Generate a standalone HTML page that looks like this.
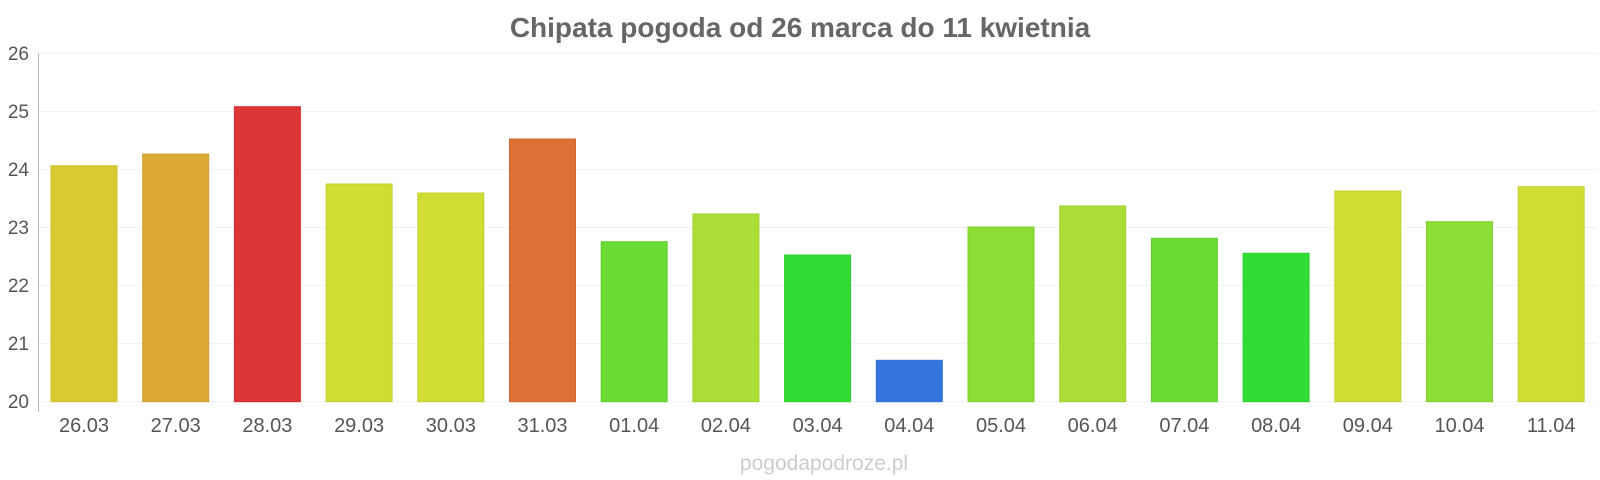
<!DOCTYPE html>
<html><head><meta charset="utf-8"><style>html,body{margin:0;padding:0;background:#fff;}svg{display:block;}</style></head>
<body>
<svg width="1600" height="480" xmlns="http://www.w3.org/2000/svg" font-family="Liberation Sans, sans-serif">
<text x="800" y="37" text-anchor="middle" font-size="28" font-weight="bold" fill="#666">Chipata pogoda od 26 marca do 11 kwietnia</text>
<g stroke="#f2f2f2" stroke-width="1">
<line x1="38" y1="53.3" x2="1597" y2="53.3"/>
<line x1="38" y1="111.4" x2="1597" y2="111.4"/>
<line x1="38" y1="169.4" x2="1597" y2="169.4"/>
<line x1="38" y1="227.5" x2="1597" y2="227.5"/>
<line x1="38" y1="285.6" x2="1597" y2="285.6"/>
<line x1="38" y1="343.6" x2="1597" y2="343.6"/>
<line x1="38" y1="401.7" x2="1597" y2="401.7"/>
</g>
<line x1="38.5" y1="53" x2="38.5" y2="412" stroke="#bbb" stroke-width="1"/>
<g font-size="19" fill="#555" text-anchor="end">
<text x="29" y="60">26</text><text x="29" y="118">25</text><text x="29" y="176">24</text><text x="29" y="234">23</text><text x="29" y="292">22</text><text x="29" y="350">21</text><text x="29" y="408">20</text>
</g>
<g stroke-width="1">
<rect x="51" y="165.7" width="66" height="236" fill="#dbc933" stroke="#cfc030"/>
<rect x="142.7" y="154" width="66" height="247.7" fill="#dca935" stroke="#d0a030"/>
<rect x="234.4" y="106.7" width="66" height="295" fill="#dc3535" stroke="#d03030"/>
<rect x="326.1" y="184" width="66" height="217.7" fill="#cfdd35" stroke="#c3d030"/>
<rect x="417.8" y="193" width="66" height="208.7" fill="#cfdd35" stroke="#c3d030"/>
<rect x="509.5" y="139" width="66" height="262.7" fill="#dd7035" stroke="#d06530"/>
<rect x="601.2" y="241.7" width="66" height="160" fill="#6adc35" stroke="#60d030"/>
<rect x="692.9" y="214" width="66" height="187.7" fill="#aadd35" stroke="#a0d030"/>
<rect x="784.6" y="255" width="66" height="146.7" fill="#33dc35" stroke="#30d030"/>
<rect x="876.3" y="360.3" width="66" height="41.4" fill="#3375dc" stroke="#3070d0"/>
<rect x="968" y="227" width="66" height="174.7" fill="#8cdd35" stroke="#80d030"/>
<rect x="1059.7" y="206" width="66" height="195.7" fill="#aadd35" stroke="#a0d030"/>
<rect x="1151.4" y="238.3" width="66" height="163.4" fill="#6adc35" stroke="#60d030"/>
<rect x="1243.1" y="253.3" width="66" height="148.4" fill="#33dc35" stroke="#30d030"/>
<rect x="1334.8" y="191" width="66" height="210.7" fill="#cfdd35" stroke="#c3d030"/>
<rect x="1426.5" y="221.7" width="66" height="180" fill="#8cdd35" stroke="#80d030"/>
<rect x="1518.2" y="186.7" width="66" height="215" fill="#cfdd35" stroke="#c3d030"/>
</g>
<g font-size="20" fill="#555" text-anchor="middle">
<text x="84" y="432">26.03</text><text x="175.7" y="432">27.03</text><text x="267.4" y="432">28.03</text><text x="359.1" y="432">29.03</text><text x="450.8" y="432">30.03</text><text x="542.5" y="432">31.03</text><text x="634.2" y="432">01.04</text><text x="725.9" y="432">02.04</text><text x="817.6" y="432">03.04</text><text x="909.3" y="432">04.04</text><text x="1001" y="432">05.04</text><text x="1092.7" y="432">06.04</text><text x="1184.4" y="432">07.04</text><text x="1276.1" y="432">08.04</text><text x="1367.8" y="432">09.04</text><text x="1459.5" y="432">10.04</text><text x="1551.2" y="432">11.04</text>
</g>
<text x="824" y="470" text-anchor="middle" font-size="21" fill="#ccc">pogodapodroze.pl</text>
</svg>
</body></html>
